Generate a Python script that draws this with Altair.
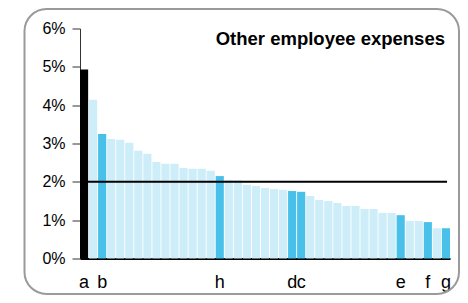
import altair as alt
import pandas as pd

# bar values in percent, sorted as in the picture
values = [4.93, 4.14, 3.25, 3.12, 3.10, 3.02, 2.81, 2.73, 2.52, 2.47, 2.47,
          2.36, 2.34, 2.34, 2.29, 2.15, 2.05, 2.04, 1.92, 1.89, 1.84, 1.81,
          1.79, 1.76, 1.74, 1.63, 1.53, 1.50, 1.45, 1.37, 1.37, 1.29, 1.29,
          1.19, 1.19, 1.13, 0.98, 0.98, 0.95, 0.79, 0.79]
label_positions = [1, 3, 16, 24, 25, 36, 39, 41]
label_letters = ["a", "b", "h", "d", "c", "e", "f", "g"]
black_positions = [1]
reference_line = [2.0]
y_ticks = [0, 1, 2, 3, 4, 5, 6]
title_text = "Other employee expenses"

ids = list(range(1, len(values) + 1))
kinds = []
for i in ids:
    if i in black_positions:
        kinds.append("black")
    elif i in label_positions:
        kinds.append("hi")
    else:
        kinds.append("lo")

df = pd.DataFrame({"id": ids, "v": [x / 100 for x in values], "kind": kinds})

expr = "''"
for p, l in reversed(list(zip(label_positions, label_letters))):
    expr = f"datum.value == {p} ? '{l}' : ({expr})"

FONT = "Liberation Sans"
W, H = 370, 230

bars = alt.Chart(df).mark_bar().encode(
    x=alt.X("id:O", scale=alt.Scale(paddingInner=0.1, paddingOuter=0),
            axis=alt.Axis(title=None, labelExpr=expr, ticks=False, labelAngle=0,
                          domainColor="#000", domainWidth=2, labelFontSize=18,
                          labelFont=FONT, labelColor="#000", labelPadding=15,
                          labelOverlap=False)),
    y=alt.Y("v:Q", scale=alt.Scale(domain=[0, 0.06], nice=False),
            axis=alt.Axis(title=None, values=[t / 100 for t in y_ticks],
                          tickCount=len(y_ticks) + 2,
                          format=".0%", grid=False, tickSize=8, tickColor="#333",
                          domainColor="#333", labelFontSize=16, labelFont=FONT,
                          labelColor="#000", labelPadding=7, labelOverlap=False)),
    color=alt.Color("kind:N", scale=alt.Scale(domain=["black", "hi", "lo"],
                                              range=["#000000", "#49C0EA", "#CDEDF9"]),
                    legend=None),
)

rule = alt.Chart(pd.DataFrame({"r": [x / 100 for x in reference_line]})).mark_rule(
    color="#000", strokeWidth=2).encode(
    y="r:Q", x=alt.value(0), x2=alt.value(367))

title = alt.Chart(pd.DataFrame({"t": [title_text]})).mark_text(
    align="right", baseline="alphabetic", fontWeight="bold", fontSize=18.5,
    font=FONT, color="#000").encode(
    text="t:N", x=alt.value(365), y=alt.value(16))

frame = alt.Chart(pd.DataFrame({"f": [0]})).mark_rect(
    fill=None, filled=False, stroke="#9a9a9a", strokeWidth=2, cornerRadius=22).encode(
    x=alt.value(-55.5), x2=alt.value(379), y=alt.value(-19.5), y2=alt.value(265.5))

chart = alt.layer(frame, bars, rule, title).properties(
    width=W, height=H,
    autosize=alt.AutoSizeParams(type="none"),
    padding={"left": 72, "top": 20.5, "right": 10, "bottom": 36.5},
).configure_view(stroke=None)

chart.save("out.html", embed_options={"renderer": "svg", "actions": False})
